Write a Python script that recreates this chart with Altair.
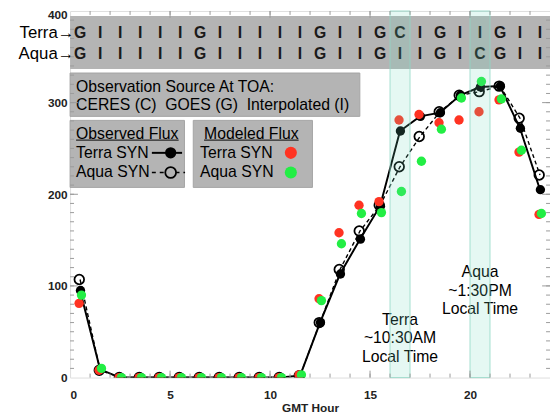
import altair as alt
import pandas as pd

# ---------------- data ----------------
hours = [i + 0.5 for i in range(24)]
terra_obs = [95, 9, 0, 0, 0, 0, 0, 0, 0, 0, 0, 2, 60, 113, 151, 187, 269, 285, 289, 308, 317, 318, 272, 205]
aqua_obs = [107, 8, 0, 0, 0, 0, 0, 0, 0, 0, 0, 2, 60, 118, 160, 188, 230, 263, 290, 308, 312, 318, 283, 221]
terra_mod = [81, 8, 0, 0, 0, 0, 0, 0, 0, 0, 0, 3, 86, 158, 188, 192, 281, 287, 278, 281, 290, 303, 246, 178]
aqua_mod = [90, 10, 0, 0, 0, 0, 0, 0, 0, 0, 0, 3, 84, 146, 179, 180, 203, 236, 271, 305, 323, 304, 248, 179]
terra_src = list("GIIIIIGIIIIIGIIGCIGIIGII")
aqua_src = list("GIIIIIGIIIIIGIIGIIGICGII")

x_label_values = [0, 5, 10, 15, 20]
y_label_values = [0, 100, 200, 300, 400]
x_minor_ticks = list(range(1, 24))
x_major_ticks = [5, 10, 15, 20]
y_minor_ticks = list(range(10, 400, 10))
y_major_ticks = [100, 200, 300]

# overpass windows (GMT hour)
band_start = [16, 20]
band_end = [17, 21]

W, H = 487, 372
FONT = "Liberation Sans"
RED = "#ff3322"
GREEN = "#22ee44"
GRAY = "#b4b4b4"

xs = alt.Scale(domain=[0, 24], nice=False, zero=False)
ys = alt.Scale(domain=[0, 400], nice=False, zero=False)

x_axis = alt.Axis(values=x_label_values, title="GMT Hour", ticks=False, domain=False, grid=False,
                  labelFont=FONT, labelFontSize=12, labelFontWeight="bold", labelColor="#222",
                  labelPadding=12, titleFont=FONT, titleFontSize=12, titleFontWeight="bold",
                  titleColor="#222", titlePadding=2)
y_axis = alt.Axis(values=y_label_values, title=None, ticks=False, domain=False, grid=False,
                  labelFont=FONT, labelFontSize=12, labelFontWeight="bold", labelColor="#222",
                  labelPadding=3,
                  labelOffset={"condition": {"test": "datum.value === 400", "value": 4}, "value": 0})


def X(field):
    return alt.X(field, scale=xs, axis=x_axis)


def Y(field):
    return alt.Y(field, scale=ys, axis=y_axis)


# ---------------- background boxes ----------------
boxes = pd.DataFrame({
    "x0": [0, 0, 0, 6.16],
    "x1": [24, 14.49, 5.72, 12.12],
    "y0": [336.6, 285.0, 207.5, 207.5],
    "y1": [394.6, 332.3, 280.6, 280.6],
    "kind": ["band", "box", "box", "box"],
})
band_layer = alt.Chart(boxes[boxes.kind == "band"]).mark_rect(color=GRAY).encode(
    x=X("x0:Q"), x2="x1", y=Y("y0:Q"), y2="y1")
box_layer = alt.Chart(boxes[boxes.kind == "box"]).mark_rect(color=GRAY, stroke="#a4a4a4", strokeWidth=1).encode(
    x=X("x0:Q"), x2="x1", y=Y("y0:Q"), y2="y1")

# ---------------- source letters ----------------
src = pd.DataFrame({
    "hour": hours + hours,
    "letter": terra_src + aqua_src,
    "row": [376.3] * 24 + [352.7] * 24,
})
letter_layer = alt.Chart(src).mark_text(font=FONT, fontSize=16, fontWeight="bold", color="#1a1a1a",
                                        baseline="middle").encode(
    x=X("hour:Q"), y=Y("row:Q"), text="letter:N")

side = pd.DataFrame({"x": [0.22, 0.22], "y": [376.3, 352.7], "t": ["Terra\u2192", "Aqua\u2192"]})
side_layer = alt.Chart(side).mark_text(font=FONT, fontSize=17, align="right", baseline="middle",
                                       color="black", clip=False).encode(
    x=X("x:Q"), y=Y("y:Q"), text="t:N")

# ---------------- legend texts ----------------
leg = pd.DataFrame({
    "x": [0.3, 0.3, 0.3, 0.3, 0.3, 6.7, 6.5, 6.5],
    "y": [317.2, 297.8, 265.6, 245.2, 223.7, 265.6, 245.2, 223.7],
    "t": ["Observation Source At TOA:",
          "CERES (C)\u00a0\u00a0GOES (G)\u00a0\u00a0Interpolated (I)",
          "Observed Flux", "Terra SYN", "Aqua SYN",
          "Modeled Flux", "Terra SYN", "Aqua SYN"],
})
leg_text = alt.Chart(leg).mark_text(font=FONT, fontSize=16, align="left", baseline="middle",
                                    color="black").encode(
    x=X("x:Q"), y=Y("y:Q"), text="t:N")

underline = pd.DataFrame({"x0": [0.3, 6.7], "x1": [5.43, 11.43], "y": [259.1, 259.1]})
underline_layer = alt.Chart(underline).mark_rule(color="black", strokeWidth=1).encode(
    x=X("x0:Q"), x2="x1", y=Y("y:Q"))

leg_lines = pd.DataFrame({"x0": [4.09, 4.09], "x1": [5.6, 5.75], "y": [245.2, 223.7], "s": ["solid", "dash"]})
leg_solid = alt.Chart(leg_lines[leg_lines.s == "solid"]).mark_rule(color="black", strokeWidth=2).encode(
    x=X("x0:Q"), x2="x1", y=Y("y:Q"))
leg_dash = alt.Chart(leg_lines[leg_lines.s == "dash"]).mark_rule(color="black", strokeWidth=1.5,
                                                                 strokeDash=[4, 4]).encode(
    x=X("x0:Q"), x2="x1", y=Y("y:Q"))
leg_sym = pd.DataFrame({"x": [5.03, 5.03, 11.04, 11.04], "y": [245.2, 223.7, 245.2, 223.7],
                        "k": ["terra_obs", "aqua_obs", "terra_mod", "aqua_mod"]})
leg_filled = alt.Chart(leg_sym[leg_sym.k == "terra_obs"]).mark_circle(color="black", opacity=1, size=130).encode(
    x=X("x:Q"), y=Y("y:Q"))
leg_open = alt.Chart(leg_sym[leg_sym.k == "aqua_obs"]).mark_point(shape="circle", filled=False, color="black",
                                                                  fill=GRAY, fillOpacity=1,
                                                                  strokeWidth=1.8, size=120, opacity=1).encode(
    x=X("x:Q"), y=Y("y:Q"))
leg_red = alt.Chart(leg_sym[leg_sym.k == "terra_mod"]).mark_circle(color=RED, opacity=1, size=150).encode(
    x=X("x:Q"), y=Y("y:Q"))
leg_green = alt.Chart(leg_sym[leg_sym.k == "aqua_mod"]).mark_circle(color=GREEN, opacity=1, size=150).encode(
    x=X("x:Q"), y=Y("y:Q"))

# ---------------- flux series ----------------
flux = pd.DataFrame({"hour": hours, "terra_obs": terra_obs, "aqua_obs": aqua_obs,
                     "terra_mod": terra_mod, "aqua_mod": aqua_mod})
base = alt.Chart(flux)
terra_line = base.mark_line(color="black", strokeWidth=2, clip=True).encode(
    x=X("hour:Q"), y=Y("terra_obs:Q"))
aqua_line = base.mark_line(color="black", strokeWidth=1.4, strokeDash=[4, 3], clip=True).encode(
    x=X("hour:Q"), y=Y("aqua_obs:Q"))
terra_pts = base.transform_calculate(hx="datum.hour + 0.02").mark_circle(
    color="black", opacity=1, size=90, clip=True).encode(
    x=X("hx:Q"), y=Y("terra_obs:Q"))
aqua_pts = base.transform_calculate(hx="datum.hour - 0.04").mark_point(
    shape="circle", filled=False, color="black", strokeWidth=1.8, size=95, opacity=1, clip=True).encode(
    x=X("hx:Q"), y=Y("aqua_obs:Q"))
red_pts = base.transform_calculate(hx="datum.hour - 0.05").mark_circle(
    color=RED, opacity=1, size=90, clip=True).encode(
    x=X("hx:Q"), y=Y("terra_mod:Q"))
green_pts = base.transform_calculate(hx="datum.hour + 0.07").mark_circle(
    color=GREEN, opacity=1, size=90, clip=True).encode(
    x=X("hx:Q"), y=Y("aqua_mod:Q"))

# ---------------- local time annotations ----------------
ann = pd.DataFrame({
    "x": [16.5, 16.5, 16.5, 20.5, 20.5, 20.5],
    "y": [62.4, 43.0, 22.6, 115.1, 94.6, 74.2],
    "t": ["Terra", "~10:30AM", "Local Time", "Aqua", "~1:30PM", "Local Time"],
})
ann_layer = alt.Chart(ann).mark_text(font=FONT, fontSize=16, align="center", baseline="middle",
                                     color="black").encode(
    x=X("x:Q"), y=Y("y:Q"), text="t:N")

# ---------------- overpass bands (drawn on top, translucent) ----------------
bands = pd.DataFrame({"x0": band_start, "x1": band_end, "y0": [0, 0], "y1": [400, 400]})
band_cyan = alt.Chart(bands).mark_rect(fill="#6fd9bd", fillOpacity=0.18, stroke="#8fd8c4",
                                       strokeOpacity=0.8, strokeWidth=1).encode(
    x=X("x0:Q"), x2="x1", y=Y("y0:Q"), y2="y1")

# ---------------- inward ticks ----------------
TC = "#9a9a9a"


def xticks(vals, length):
    d = pd.DataFrame({"t": vals})
    bot = alt.Chart(d).mark_rule(color=TC, strokeWidth=1).encode(
        x=X("t:Q"), y=alt.value(H), y2=alt.value(H - length))
    top = alt.Chart(d).mark_rule(color=TC, strokeWidth=1).encode(
        x=X("t:Q"), y=alt.value(0), y2=alt.value(length))
    return [bot, top]


def yticks(vals, length):
    d = pd.DataFrame({"t": vals})
    left = alt.Chart(d).mark_rule(color=TC, strokeWidth=1).encode(
        y=Y("t:Q"), x=alt.value(0), x2=alt.value(length))
    right = alt.Chart(d).mark_rule(color=TC, strokeWidth=1).encode(
        y=Y("t:Q"), x=alt.value(W), x2=alt.value(W - length))
    return [left, right]


tick_layers = xticks(x_minor_ticks, 4) + xticks(x_major_ticks, 7) + yticks(y_minor_ticks, 4) + yticks(y_major_ticks, 8)

chart = alt.layer(
    band_layer, box_layer, letter_layer, side_layer,
    leg_text, underline_layer, leg_solid, leg_dash, leg_filled, leg_open, leg_red, leg_green,
    terra_line, aqua_line, terra_pts, aqua_pts, red_pts, green_pts,
    ann_layer, band_cyan, *tick_layers,
).properties(
    width=W, height=H,
    autosize=alt.AutoSizeParams(type="none"),
    padding={"left": 63, "top": 0, "right": 0, "bottom": 37},
).configure_view(stroke="#aaaaaa", strokeWidth=1).configure(background="white")

chart.save("out.html", embed_options={"renderer": "svg", "actions": False})
